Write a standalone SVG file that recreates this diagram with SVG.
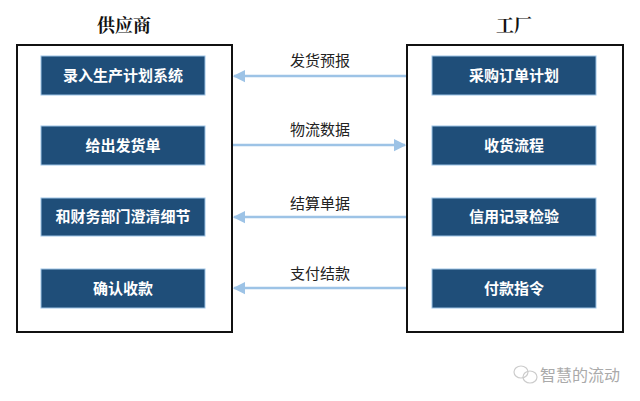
<svg xmlns="http://www.w3.org/2000/svg" width="640" height="401" viewBox="0 0 640 401">
<style>
.title{font-family:"Noto Serif CJK SC","Noto Sans CJK SC",serif;font-size:18px;font-weight:bold;fill:#111;text-anchor:middle;}
.frame{fill:#fff;stroke:#111;stroke-width:2;}
.node rect{fill:#1f4e79;stroke:#9dc3e6;stroke-width:1;}
.node text{font-family:"Noto Sans CJK SC",sans-serif;font-size:15px;font-weight:bold;fill:#fff;text-anchor:middle;}
.lbl{font-family:"Noto Sans CJK SC",sans-serif;font-size:15px;fill:#222;text-anchor:middle;}
.conn line{stroke:#9dc3e6;stroke-width:2.5;}
</style>
<defs><marker id="a" viewBox="0 0 10 10" refX="9" refY="5" markerWidth="5" markerHeight="5.5" orient="auto"><path d="M0,0L10,5L0,10z" fill="#9dc3e6"/></marker></defs>
<rect width="640" height="401" fill="#fff"/>
<text class="title" x="124" y="32">供应商</text>
<text class="title" x="514" y="32">工厂</text>
<g id="supplier"><rect class="frame" x="17" y="45" width="215" height="287"/></g>
<g id="factory"><rect class="frame" x="407" y="45" width="216" height="287"/></g>
<g id="n1" class="node"><rect x="41" y="56" width="164" height="39"/><text x="123" y="81">录入生产计划系统</text></g>
<g id="n2" class="node"><rect x="41" y="126" width="164" height="39"/><text x="123" y="151">给出发货单</text></g>
<g id="n3" class="node"><rect x="41" y="198" width="164" height="38"/><text x="123" y="222">和财务部门澄清细节</text></g>
<g id="n4" class="node"><rect x="41" y="269" width="164" height="39"/><text x="123" y="294">确认收款</text></g>
<g id="n5" class="node"><rect x="432" y="56" width="164" height="39"/><text x="514" y="81">采购订单计划</text></g>
<g id="n6" class="node"><rect x="432" y="126" width="164" height="39"/><text x="514" y="151">收货流程</text></g>
<g id="n7" class="node"><rect x="432" y="198" width="164" height="38"/><text x="514" y="222">信用记录检验</text></g>
<g id="n8" class="node"><rect x="432" y="269" width="164" height="39"/><text x="514" y="294">付款指令</text></g>
<g class="conn" id="connectors">
<line x1="406" y1="76" x2="234" y2="76" marker-end="url(#a)"/>
<line x1="233" y1="145" x2="405" y2="145" marker-end="url(#a)"/>
<line x1="406" y1="217" x2="234" y2="217" marker-end="url(#a)"/>
<line x1="406" y1="288" x2="234" y2="288" marker-end="url(#a)"/>
<text class="lbl" x="320" y="66">发货预报</text>
<text class="lbl" x="320" y="135">物流数据</text>
<text class="lbl" x="320" y="209">结算单据</text>
<text class="lbl" x="320" y="279">支付结款</text>
</g>
<g id="watermark" fill="none" stroke="#ccc" stroke-width="1.2">
<ellipse cx="521" cy="372" rx="7" ry="6"/><ellipse cx="530" cy="377" rx="7" ry="6"/>
<text x="540" y="381" stroke="none" fill="#aaa" font-family="Noto Sans CJK SC,sans-serif" font-size="16">智慧的流动</text>
</g>
</svg>
